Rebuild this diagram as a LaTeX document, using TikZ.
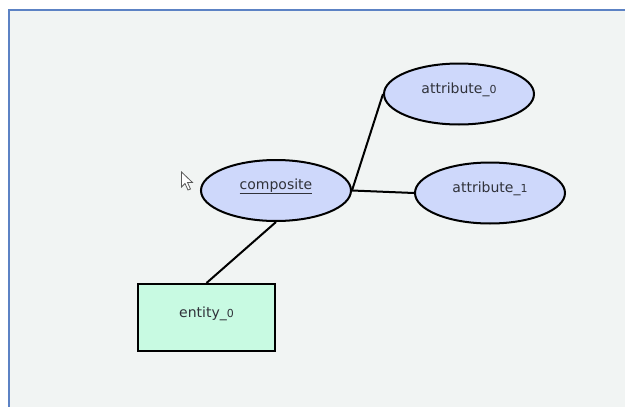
\documentclass[tikz,border=0pt]{standalone}
\usepackage{fontspec}
\setmainfont{DejaVu Sans}
\usetikzlibrary{shapes.geometric}
\definecolor{pagebg}{RGB}{241,244,243}
\definecolor{framecol}{RGB}{92,130,196}
\definecolor{attrfill}{RGB}{206,216,251}
\definecolor{entfill}{RGB}{200,250,226}
\definecolor{labelcol}{RGB}{48,50,58}
\newcommand{\smalldigit}[1]{{\fontsize{11}{13}\selectfont #1}}
\tikzset{
  attr/.style={ellipse, draw=black, line width=2pt, fill=attrfill,
    minimum width=150pt, minimum height=61pt, inner sep=0pt},
  entbox/.style={rectangle, draw=black, line width=2pt, fill=entfill,
    minimum width=137pt, minimum height=67pt, inner sep=0pt},
  lbl/.style={font=\fontsize{14}{16}\selectfont, text=labelcol, inner sep=0pt},
  link/.style={line width=2pt, draw=black},
}
\begin{document}
\begin{tikzpicture}[x=1pt, y=-1pt]
  \useasboundingbox (0,0) rectangle (625,407);
  % canvas with its frame on the top and left edges
  \fill[white] (0,0) rectangle (625,407);
  \fill[pagebg] (8,9) rectangle (625,407);
  \draw[framecol, line width=2.5pt] (9.2,407) -- (9.2,10.2) -- (625,10.2);

  % shapes
  \node[attr]   (comp)  at (276,190.5) {};
  \node[attr]   (attr0) at (459,94)    {};
  \node[attr]   (attr1) at (490,193)   {};
  \node[entbox] (ent)   at (206.5,317.5) {};

  % connectors
  \draw[link] (comp.east) -- (attr0.west);
  \draw[link] (comp.east) -- (attr1.west);
  \draw[link] (comp.south) -- (ent.north);

  % labels, set a little above the shape centres
  \node[lbl] (compL)  at ([yshift=4pt]comp.center)  {\underline{composite}};
  \node[lbl] (attr0L) at ([yshift=4pt]attr0.center) {attribute\_\smalldigit{0}};
  \node[lbl] (attr1L) at ([yshift=4pt]attr1.center) {attribute\_\smalldigit{1}};
  \node[lbl] (entL)   at ([yshift=4pt]ent.center)   {entity\_\smalldigit{0}};

  % mouse pointer
  \draw[fill=white, draw=gray!70!black, line width=0.8pt, line join=miter]
    (181.5,172) -- (181.5,187) -- (185,183.5) -- (188,190) -- (190.5,189)
    -- (187.5,182.5) -- (192.5,182.5) -- cycle;
\end{tikzpicture}
\end{document}
